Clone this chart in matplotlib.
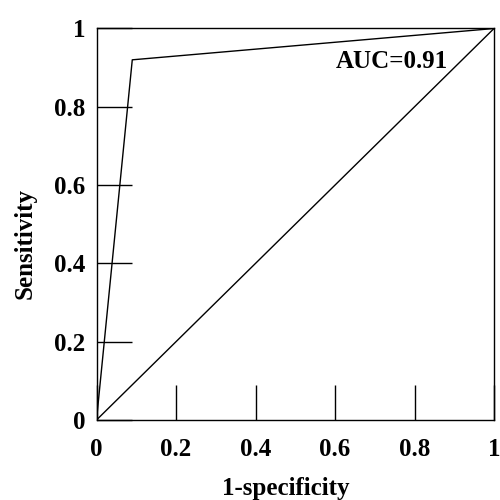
import matplotlib
matplotlib.use("Agg")
import matplotlib.pyplot as plt

# ROC points (1-specificity, sensitivity)
fpr = [0.0, 0.09, 1.0]
tpr = [0.0, 0.92, 1.0]
chance = [0.0, 1.0]
auc_label = "AUC=0.91"
ticks = [0, 0.2, 0.4, 0.6, 0.8, 1]
tick_labels = ["0", "0.2", "0.4", "0.6", "0.8", "1"]

plt.rcParams.update({
    "font.family": ["Liberation Serif", "DejaVu Serif"],
    "font.weight": "bold",
    "font.size": 18,
})

fig = plt.figure(figsize=(5, 5), dpi=100)
ax = fig.add_axes([0.193, 0.16, 0.795, 0.783])

ax.plot(fpr, tpr, color="black", lw=1.0)
ax.plot(chance, chance, color="black", lw=1.0)
ax.text(0.603, 0.915, auc_label, ha="left", va="center", fontsize=18, fontweight="bold")

ax.set_xlim(0, 1)
ax.set_ylim(0, 1)
ax.set_xticks(ticks)
ax.set_xticklabels(tick_labels)
ax.set_yticks(ticks)
ax.set_yticklabels(tick_labels)
ax.tick_params(direction="in", length=25, width=1.0, color="black")
ax.tick_params(axis="x", pad=13)
ax.tick_params(axis="y", pad=8)
for s in ax.spines.values():
    s.set_linewidth(1.0)

ax.set_xlabel("1-specificity", fontweight="bold")
ax.set_ylabel("Sensitivity", fontweight="bold")
ax.xaxis.set_label_coords(0.476, -0.145)
ax.yaxis.set_label_coords(-0.150, 0.452)

fig.savefig("out.png", dpi=100)
